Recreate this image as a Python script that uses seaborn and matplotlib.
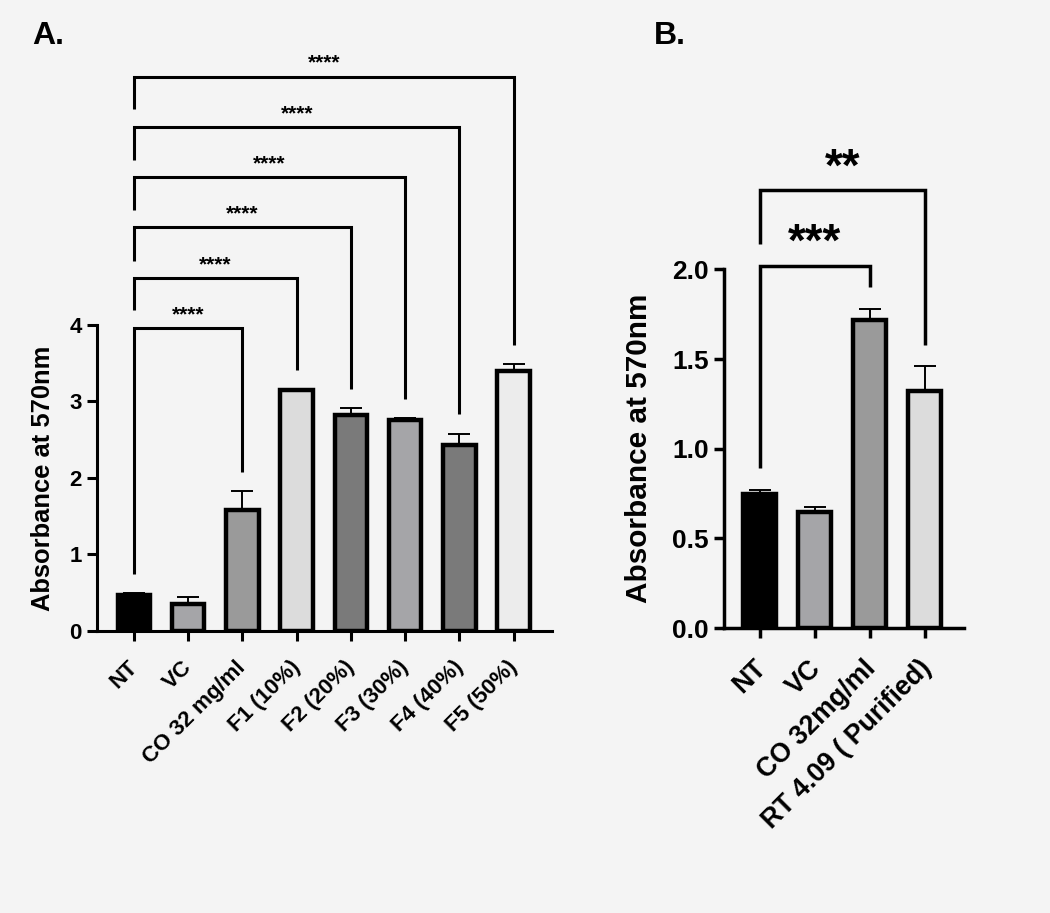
import numpy as np
import pandas as pd
import seaborn as sns
import matplotlib.pyplot as plt
import matplotlib.transforms as mtransforms

# %% data ---------------------------------------------------------------
groups_a = ['NT', 'VC', 'CO 32 mg/ml', 'F1 (10%)', 'F2 (20%)',
            'F3 (30%)', 'F4 (40%)', 'F5 (50%)']
means_a = [0.47, 0.35, 1.58, 3.15, 2.82, 2.76, 2.43, 3.40]
sem_a = [0.02, 0.09, 0.25, 0.01, 0.09, 0.02, 0.15, 0.09]
colors_a = ['#000000', '#a4a4a9', '#9a9a9a', '#dcdcdc', '#7a7a7a',
            '#a4a4a9', '#7a7a7a', '#ececec']
# comparisons against NT
comp_a = ['CO 32 mg/ml', 'F1 (10%)', 'F2 (20%)', 'F3 (30%)', 'F4 (40%)', 'F5 (50%)']
bracket_y_a = [3.96, 4.61, 5.28, 5.93, 6.59, 7.25]
stars_a = ['****'] * 6

groups_b = ['NT', 'VC', 'CO 32mg/ml', 'RT 4.09 ( Purified)']
means_b = [0.75, 0.645, 1.72, 1.32]
sem_b = [0.02, 0.03, 0.06, 0.14]
colors_b = ['#000000', '#a4a4a9', '#9a9a9a', '#dcdcdc']
comp_b = ['CO 32mg/ml', 'RT 4.09 ( Purified)']
bracket_y_b = [2.02, 2.44]
stars_b = ['***', '**']

df_a = pd.DataFrame({'group': groups_a, 'mean': means_a, 'sem': sem_a})
df_b = pd.DataFrame({'group': groups_b, 'mean': means_b, 'sem': sem_b})

# %% style --------------------------------------------------------------
sns.set_style('ticks')
plt.rcParams['font.family'] = ['Liberation Sans', 'DejaVu Sans']
plt.rcParams['font.weight'] = 'bold'
for k in ['text.color', 'axes.labelcolor', 'xtick.color', 'ytick.color',
          'axes.edgecolor']:
    plt.rcParams[k] = 'black'
bg = '#f4f4f4'

fig = plt.figure(figsize=(10.5, 9.13), dpi=100, facecolor=bg)
ax_a = fig.add_axes([0.0924, 0.309, 0.433, 0.335])
ax_b = fig.add_axes([0.6895, 0.312, 0.2286, 0.393])


def draw_panel(ax, df, colors, ymax, yticks, fmt, tick_fs, xtick_fs, label_fs,
               xlim, lw_spine, labelpad, lab_shift):
    ax.set_facecolor(bg)
    sns.barplot(data=df, x='group', y='mean', hue='group', palette=colors,
                legend=False, width=0.6, edgecolor='black', linewidth=3.2,
                ax=ax, zorder=3)
    ax.errorbar(np.arange(len(df)), df['mean'],
                yerr=[np.zeros(len(df)), df['sem']], fmt='none',
                ecolor='black', elinewidth=1.4, capsize=8, capthick=1.4,
                zorder=2)
    ax.set_ylim(0, ymax)
    ax.set_xlim(*xlim)
    ax.set_yticks(yticks)
    ax.set_yticklabels([fmt.format(t) for t in yticks], fontsize=tick_fs,
                       fontweight='bold')
    ax.set_xticks(range(len(df)))
    ax.set_xticklabels([])
    # rotated category labels, placed down-left of each tick
    shift = mtransforms.ScaledTranslation(lab_shift[0], lab_shift[1],
                                          fig.dpi_scale_trans)
    for i, g in enumerate(df['group']):
        ax.text(i, 0, g, transform=ax.get_xaxis_transform() + shift,
                rotation=45, ha='right', va='top', rotation_mode='anchor',
                fontsize=xtick_fs, fontweight='bold', clip_on=False)
    ax.set_xlabel('')
    ax.set_ylabel('Absorbance at 570nm', fontsize=label_fs, fontweight='bold',
                  labelpad=labelpad)
    ax.tick_params(width=lw_spine, length=7, color='black', pad=4)
    for s in ['left', 'bottom']:
        ax.spines[s].set_linewidth(lw_spine)
        ax.spines[s].set_color('black')
    sns.despine(ax=ax)


draw_panel(ax_a, df_a, colors_a, 4, [0, 1, 2, 3, 4], '{:g}', 16, 16, 18.4,
           (-0.68, 7.70), 2.2, 10, (-0.07, -0.26))
draw_panel(ax_b, df_b, colors_b, 2, [0, 0.5, 1.0, 1.5, 2.0], '{:.1f}', 19, 19.3,
           21.4, (-0.65, 3.71), 2.5, 14, (-0.07, -0.27))


def bracket(ax, x1, x2, y, y_left, y_right, text, fs, lw, pad):
    ax.plot([x1, x1, x2, x2], [y_left, y, y, y_right], color='black', lw=lw,
            clip_on=False, solid_capstyle='butt', solid_joinstyle='miter',
            zorder=5)
    ax.text((x1 + x2) / 2, y + pad, text, ha='center', va='bottom',
            fontsize=fs, fontweight='bold', clip_on=False)


# panel A brackets
tops_a = dict(zip(groups_a, np.array(means_a) + np.array(sem_a)))
for i, (g, y, st) in enumerate(zip(comp_a, bracket_y_a, stars_a)):
    x2 = groups_a.index(g)
    y_left = tops_a['NT'] + 0.25 if i == 0 else bracket_y_a[i - 1] + 0.23
    bracket(ax_a, 0, x2, y, y_left, tops_a[g] + 0.25, st, 15, 2.2, 0.05)

# panel B brackets
tops_b = dict(zip(groups_b, np.array(means_b) + np.array(sem_b)))
left_ends_b = [tops_b['NT'] + 0.12, 2.14]
for g, y, st, yl in zip(comp_b, bracket_y_b, stars_b, left_ends_b):
    x2 = groups_b.index(g)
    bracket(ax_b, 0, x2, y, yl, tops_b[g] + 0.12, st, 33, 2.5, 0.0)

fig.text(0.031, 0.952, 'A.', fontsize=23, fontweight='bold', va='baseline')
fig.text(0.623, 0.952, 'B.', fontsize=23, fontweight='bold', va='baseline')

plt.savefig('out.png', dpi=100, facecolor=bg)
